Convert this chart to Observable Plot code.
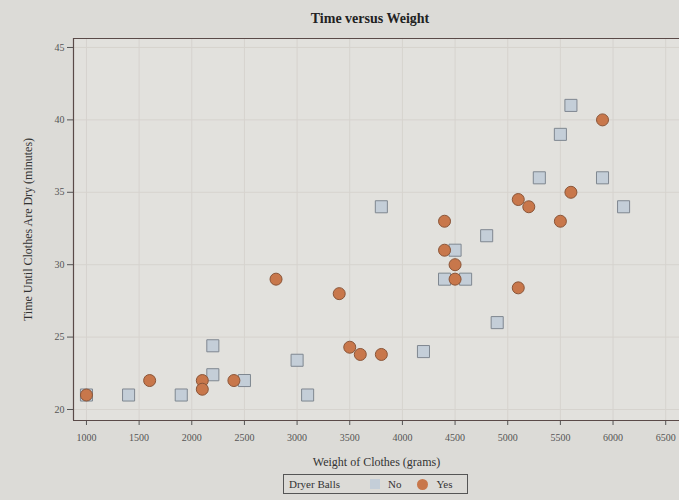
<!DOCTYPE html>
<html><head><meta charset="utf-8">
<script src="https://cdn.jsdelivr.net/npm/d3@7"></script>
<script src="https://cdn.jsdelivr.net/npm/@observablehq/plot@0.6"></script>
<style>
html,body{margin:0;padding:0;}
body{background:#dcdbd7;font-family:"Liberation Serif","Times New Roman",serif;width:679px;height:500px;overflow:hidden;position:relative;}
#title{position:absolute;left:0;top:11px;width:740px;text-align:center;font-weight:bold;font-size:14px;color:#222;}
#chart{position:absolute;left:0;top:30px;}
#legend{position:absolute;left:283px;top:474px;width:185px;height:20px;border:1px solid #555;box-sizing:border-box;display:flex;align-items:center;font-size:11px;color:#333;}
#legend span{display:inline-block;}
.sq{width:10px;height:10px;background:#c4ced8;margin-left:30px;margin-right:8px;}
.ci{width:11px;height:11px;border-radius:50%;background:#c8774b;margin-left:16px;margin-right:8px;}
</style></head><body>
<div id="title">Time versus Weight</div>
<div id="chart"></div>
<div id="legend"><span style="margin-left:5px">Dryer Balls</span><span class="sq"></span><span>No</span><span class="ci"></span><span>Yes</span></div>
<script>
const noWeight = [1000,1400,1900,2200,2200,2500,3000,3100,3800,4200,4400,4500,4600,4800,4900,5300,5500,5600,5900,6100];
const noTime   = [21,21,21,24.4,22.4,22,23.4,21,34,24,29,31,29,32,26,36,39,41,36,34];
const yesWeight = [1000,1600,2100,2100,2400,2800,3400,3500,3600,3800,4400,4400,4500,4500,5100,5100,5200,5500,5600,5900];
const yesTime   = [21,22,22,21.4,22,29,28,24.3,23.8,23.8,33,31,30,29,34.5,28.4,34,33,35,40];
const xTicks = [1000,1500,2000,2500,3000,3500,4000,4500,5000,5500,6000,6500];
const yTicks = [20,25,30,35,40,45];
const groups = ["No","Yes"];

const noData = noWeight.map((w,i)=>({weight:w,time:noTime[i],balls:groups[0]}));
const yesData = yesWeight.map((w,i)=>({weight:w,time:yesTime[i],balls:groups[1]}));
const xDomain = [877, 6631];
const yDomain = [19.24, 45.62];

const chart = Plot.plot({
  width: 679, height: 440,
  marginTop: 8, marginLeft: 73, marginRight: 0, marginBottom: 50,
  style: {background: "transparent", fontFamily: "Liberation Serif, Times New Roman, serif"},
  x: {domain: xDomain},
  y: {domain: yDomain},
  marks: [
    Plot.frame({fill: "#e2e1dd", stroke: "none"}),
    Plot.gridX(xTicks, {stroke: "#d6d3ce", strokeOpacity: 1}),
    Plot.gridY(yTicks, {stroke: "#d6d3ce", strokeOpacity: 1}),
    Plot.axisX(xTicks, {tickSize: 5, tickPadding: 8, fontSize: 10, color: "#555", stroke: "#555",
      label: "Weight of Clothes (grams)", labelAnchor: "center", labelArrow: "none", labelOffset: 45, tickFormat: d => String(d)}),
    Plot.axisY(yTicks, {tickSize: 6, tickPadding: 3, fontSize: 10, color: "#555", stroke: "#555",
      label: "Time Until Clothes Are Dry (minutes)", labelAnchor: "center", labelArrow: "none", labelOffset: 50}),
    Plot.dot(noData, {x: "weight", y: "time", symbol: "square", r: 6.8, fill: "#c4ced8", stroke: "#7f8790", strokeWidth: 1}),
    Plot.dot(yesData, {x: "weight", y: "time", symbol: "circle", r: 6, fill: "#c8774b", stroke: "#8a5538", strokeWidth: 1}),
    Plot.ruleX([xDomain[0]], {stroke: "#5a4a48", strokeWidth: 1.2}),
    Plot.ruleY(yDomain, {stroke: "#5a4a48", strokeWidth: 1.2})
  ]
});
chart.querySelectorAll('g[aria-label="x-axis label"] text, g[aria-label="y-axis label"] text').forEach(t => { t.setAttribute("font-size", "12"); t.setAttribute("fill", "#333"); });
document.getElementById("chart").appendChild(chart);
</script>
</body></html>
